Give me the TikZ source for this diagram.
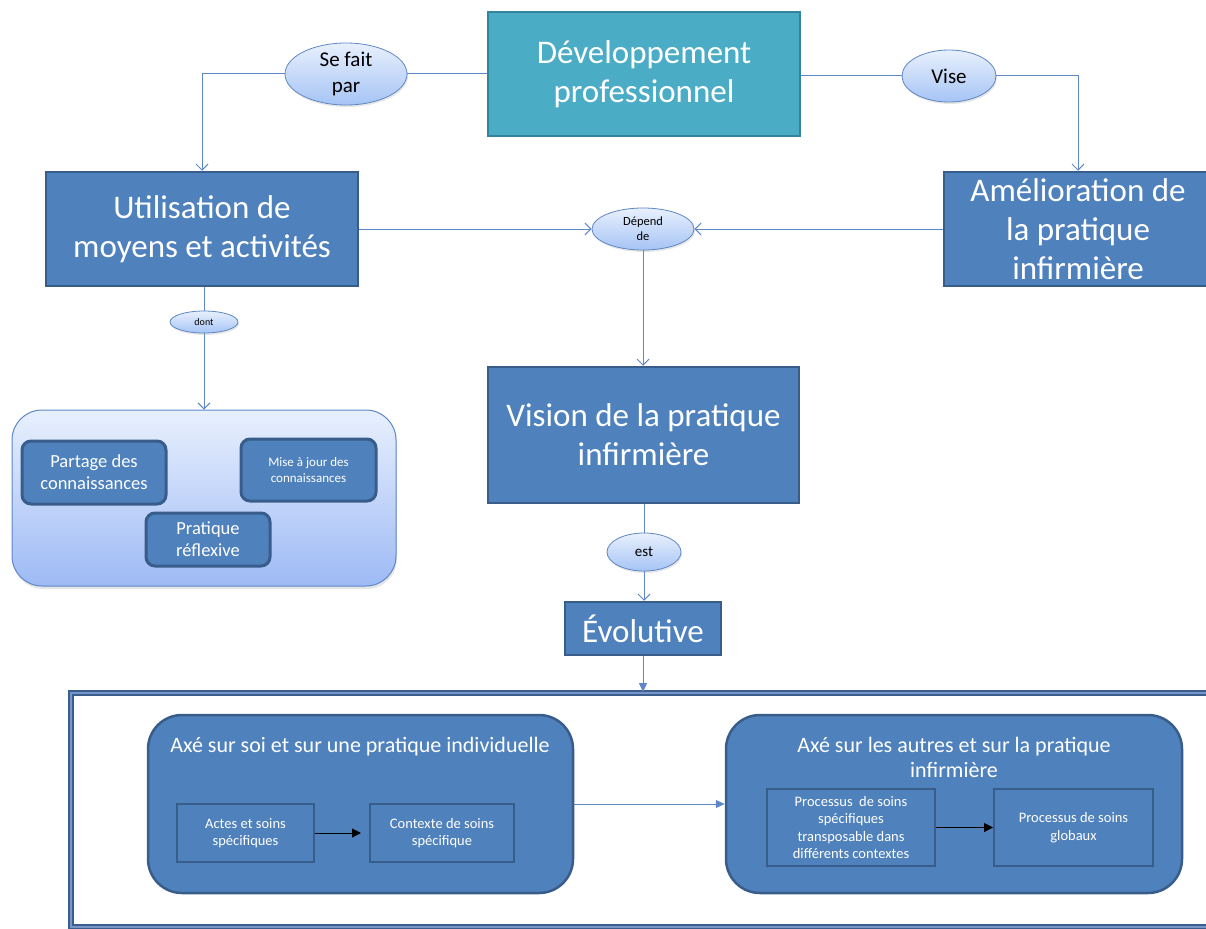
\documentclass[tikz,border=0pt]{standalone}
\usepackage{fontspec}
\setmainfont{Carlito}
\usetikzlibrary{arrows.meta,shapes.geometric,shadows}
\definecolor{bleu}{RGB}{79,129,189}
\definecolor{bleufonce}{RGB}{56,93,138}
\definecolor{turquoise}{RGB}{75,172,198}
\definecolor{turquoisefonce}{RGB}{49,132,155}
\definecolor{trait}{RGB}{93,135,200}
\definecolor{bullehaut}{RGB}{232,240,253}
\definecolor{bullebas}{RGB}{166,196,245}
\definecolor{bulletrait}{RGB}{95,135,195}
\definecolor{cadrebleu}{RGB}{58,95,143}
\definecolor{cadreclair}{RGB}{120,150,200}
\begin{document}
\begin{tikzpicture}[x=1pt,y=-1pt,>={Straight Barb[length=6pt,width=12pt]},
    boite/.style={draw=bleufonce,fill=bleu,line width=2.5pt,text=white,align=center,inner sep=0pt},
    petite/.style={boite,rounded corners=9pt,line width=3pt,font=\fontsize{18.5}{22}\selectfont},
    carre/.style={boite,line width=2pt,font=\fontsize{14.5}{17.5}\selectfont},
    groupe/.style={boite,rounded corners=34pt},
    bulle/.style={ellipse,draw=bulletrait,top color=bullehaut,bottom color=bullebas,line width=0.8pt,align=center,inner sep=0pt,
        drop shadow={opacity=0.2,shadow xshift=1pt,shadow yshift=-2pt}},
    lien/.style={draw=trait,line width=1pt},
    grand/.style={font=\fontsize{33}{39}\selectfont}]
    \useasboundingbox (0,0) rectangle (1206,928);
    \node[boite,grand,fill=turquoise,draw=turquoisefonce,minimum width=312pt,minimum height=124pt] (dev) at (644,74) {Développement\\professionnel};
    \node[boite,grand,minimum width=312pt,minimum height=114pt] (util) at (202,229) {Utilisation de\\moyens et activités};
    \node[boite,grand,minimum width=268pt,minimum height=114pt] (amel) at (1078,229) {Amélioration de\\la pratique\\infirmière};
    \node[boite,grand,minimum width=311pt,minimum height=136pt] (vision) at (643.5,435) {Vision de la pratique\\infirmière};
    \node[boite,grand,minimum width=156pt,minimum height=53pt] (evol) at (643,628.5) {Évolutive};
    \node[bulle,minimum width=122pt,minimum height=58pt,font=\fontsize{21}{26}\selectfont] (sefait) at (346,74) {Se fait\\par};
    \node[bulle,minimum width=94pt,minimum height=52pt,font=\fontsize{21}{26}\selectfont] (vise) at (949,76) {Vise};
    \node[bulle,minimum width=102pt,minimum height=42pt,font=\fontsize{12.5}{15}\selectfont] (depend) at (643,229) {Dépend\\de};
    \node[bulle,minimum width=68pt,minimum height=22pt,font=\fontsize{10}{12}\selectfont] (dont) at (204,322) {dont};
    \node[bulle,minimum width=74pt,minimum height=38pt,font=\fontsize{15}{18}\selectfont] (est) at (644,552) {est};
    \node[draw=trait,rounded corners=30pt,line width=1pt,top color=bullehaut,bottom color=bullebas!95!blue,minimum width=384pt,minimum height=176pt,
        drop shadow={opacity=0.2,shadow xshift=1pt,shadow yshift=-3pt}] (savoirs) at (204,498) {};
    \node[petite,minimum width=144pt,minimum height=63pt] (partage) at (94,472.5) {Partage des\\connaissances};
    \node[petite,minimum width=135pt,minimum height=62pt,font=\fontsize{13}{16}\selectfont] (misejour) at (308.5,470) {Mise à jour des\\connaissances};
    \node[petite,minimum width=124pt,minimum height=53pt] (reflexive) at (208,539.5) {Pratique\\réflexive};
    \node[draw=cadrebleu,line width=2pt,double=cadreclair,double distance=1.5pt,minimum width=1160pt,minimum height=234pt] (cadre) at (651,810) {};
    \node[groupe,minimum width=425pt,minimum height=178pt] (soi) at (360.5,804) {};
    \node[groupe,minimum width=456pt,minimum height=178pt] (autres) at (954,804) {};
    \node[text=white,font=\fontsize{22}{25}\selectfont] (soi-titre) at (360,747) {Axé sur soi et sur une pratique individuelle};
    \node[text=white,align=center,font=\fontsize{22}{25}\selectfont] (autres-titre) at (954,757) {Axé sur les autres et sur la pratique\\infirmière};
    \node[carre,minimum width=137pt,minimum height=58pt] (actes) at (245.5,833) {Actes et soins\\spécifiques};
    \node[carre,minimum width=144pt,minimum height=58pt] (contexte) at (442,833) {Contexte de soins\\spécifique};
    \node[carre,minimum width=168pt,minimum height=77pt] (specifiques) at (851,827.5) {Processus\ \ de soins\\spécifiques\\transposable dans\\différents contextes};
    \node[carre,minimum width=159pt,minimum height=77pt] (globaux) at (1073.5,827.5) {Processus de soins\\globaux};
    \draw[lien] (dev.west) -- (sefait.east);
    \draw[lien,->] (sefait.west) -| (util.north);
    \draw[lien] (dev.east |- vise) -- (vise.west);
    \draw[lien,->] (vise.east) -| (amel.north);
    \draw[lien,->] (util.east) -- (depend.west);
    \draw[lien,->] (amel.west) -- (depend.east);
    \draw[lien,->] (depend.south) -- (depend.south |- vision.north);
    \draw[lien] (vision.south -| est) -- (est.north);
    \draw[lien,->] (est.south) -- (est.south |- evol.north);
    \draw[lien,-{Triangle[length=9pt,width=8pt]}] (evol.south) -- (evol.south |- cadre.north);
    \draw[lien] (util.south -| dont) -- (dont.north);
    \draw[lien,->] (dont.south) -- (dont.south |- savoirs.north);
    \draw[lien,-{Triangle[length=9pt,width=8pt]}] (soi.east) -- (autres.west);
    \draw[line width=1pt,-{Triangle[length=9pt,width=9pt]},shorten >=8pt] (actes) -- (contexte);
    \draw[line width=1pt,-{Triangle[length=9pt,width=9pt]}] (specifiques) -- (globaux);
\end{tikzpicture}
\end{document}
